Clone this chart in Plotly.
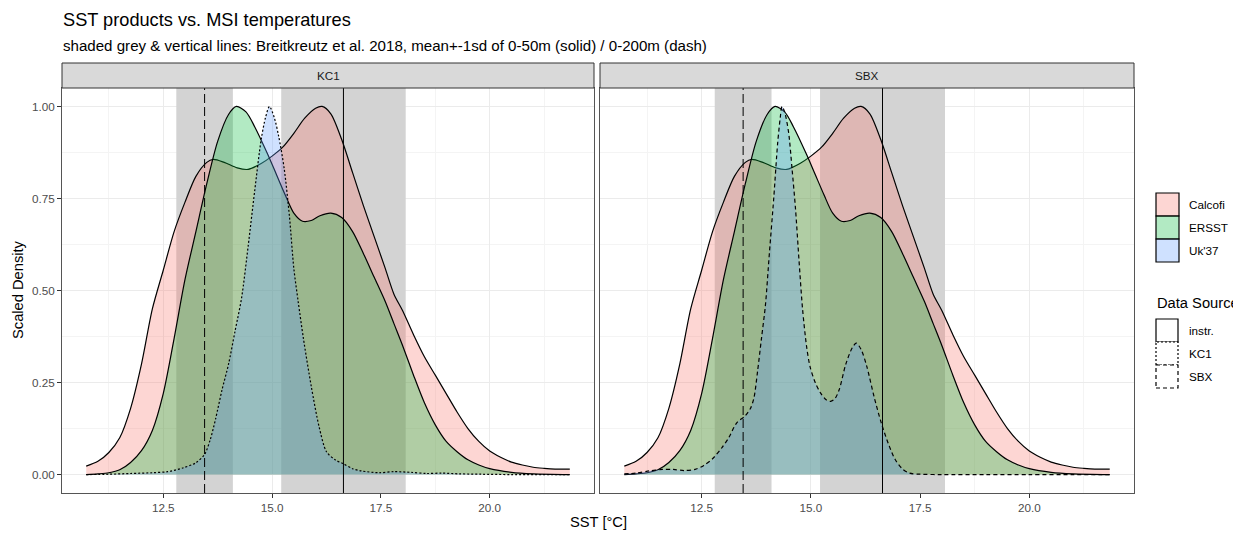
import plotly.graph_objects as go

# ---------------- data ----------------
panels = ["KC1", "SBX"]

calcofi_sst = [10.73, 11.0, 11.25, 11.5, 11.75, 12.0, 12.25, 12.5, 12.75, 13.0, 13.25, 13.5, 13.65, 13.9,
               14.2, 14.45, 14.75, 15.0, 15.25, 15.5, 15.75, 16.0, 16.15, 16.35, 16.6, 16.85, 17.1, 17.35,
               17.6, 17.8, 18.0, 18.25, 18.5, 18.75, 19.0, 19.25, 19.5, 19.75, 20.0, 20.25, 20.5, 20.75,
               21.0, 21.25, 21.5, 21.84]
calcofi_density = [0.023, 0.036, 0.06, 0.1, 0.18, 0.3, 0.45, 0.555, 0.66, 0.74, 0.81, 0.848, 0.856, 0.848,
                   0.833, 0.829, 0.845, 0.865, 0.89, 0.927, 0.968, 0.995, 1.0, 0.98, 0.91, 0.82, 0.73, 0.645,
                   0.56, 0.49, 0.445, 0.38, 0.32, 0.27, 0.22, 0.17, 0.125, 0.09, 0.064, 0.047, 0.034, 0.026,
                   0.02, 0.017, 0.015, 0.015]

ersst_sst = [10.73, 11.0, 11.25, 11.5, 11.75, 12.0, 12.25, 12.5, 12.75, 13.0, 13.25, 13.5, 13.75, 14.0,
             14.18, 14.4, 14.6, 14.9, 15.1, 15.3, 15.5, 15.7, 15.9, 16.1, 16.35, 16.6, 16.85, 17.1, 17.35,
             17.6, 17.8, 18.0, 18.25, 18.5, 18.75, 19.0, 19.25, 19.5, 19.75, 20.0, 20.5, 21.0, 21.84]
ersst_density = [0.0, 0.002, 0.005, 0.013, 0.033, 0.065, 0.12, 0.22, 0.37, 0.53, 0.66, 0.79, 0.905, 0.978,
                 1.0, 0.985, 0.945, 0.87, 0.815, 0.76, 0.71, 0.688, 0.69, 0.703, 0.71, 0.698, 0.66, 0.6,
                 0.535, 0.47, 0.41, 0.35, 0.27, 0.195, 0.135, 0.09, 0.062, 0.04, 0.026, 0.016, 0.006,
                 0.002, 0.0]

uk37_kc1_sst = [10.73, 11.25, 11.75, 12.25, 12.6, 12.95, 13.25, 13.45, 13.58, 13.7, 13.85, 14.0, 14.15,
                14.3, 14.45, 14.6, 14.75, 14.85, 14.94, 15.05, 15.15, 15.28, 15.4, 15.5, 15.6, 15.72, 15.9,
                16.08, 16.25, 16.45, 16.63, 16.85, 17.05, 17.45, 17.8, 18.2, 18.55, 18.9, 19.3, 19.8, 20.5,
                21.84]
uk37_kc1_density = [0.0, 0.001, 0.003, 0.005, 0.008, 0.018, 0.032, 0.055, 0.095, 0.15, 0.23, 0.3, 0.39,
                    0.48, 0.62, 0.77, 0.91, 0.97, 1.0, 0.97, 0.92, 0.83, 0.7, 0.56, 0.47, 0.37, 0.24,
                    0.13, 0.062, 0.04, 0.03, 0.016, 0.01, 0.005, 0.008, 0.006, 0.003, 0.004, 0.002, 0.001,
                    0.0, 0.0]

uk37_sbx_sst = [10.73, 11.0, 11.3, 11.6, 11.85, 12.1, 12.35, 12.55, 12.75, 12.97, 13.12, 13.3, 13.5,
                13.62, 13.7, 13.78, 13.87, 13.96, 14.05, 14.15, 14.24, 14.3, 14.34, 14.4, 14.49, 14.57,
                14.65, 14.73, 14.81, 14.9, 14.98, 15.1, 15.22, 15.35, 15.45, 15.55, 15.65, 15.8, 15.95,
                16.04, 16.15, 16.28, 16.45, 16.61, 16.77, 16.93, 17.1, 17.26, 17.5, 18.0, 19.0, 20.0,
                21.0, 21.84]
uk37_sbx_density = [0.002, 0.004, 0.01, 0.014, 0.014, 0.011, 0.014, 0.025, 0.043, 0.074, 0.1, 0.14, 0.16,
                    0.18, 0.21, 0.28, 0.37, 0.46, 0.6, 0.75, 0.9, 0.97, 1.0, 0.985, 0.93, 0.83, 0.72,
                    0.58, 0.45, 0.35, 0.294, 0.25, 0.222, 0.203, 0.199, 0.206, 0.231, 0.3, 0.345, 0.357,
                    0.34, 0.294, 0.21, 0.141, 0.085, 0.041, 0.015, 0.004, 0.001, 0.0, 0.0, 0.0, 0.0, 0.0]

# Breitkreutz et al. 2018 mean +- 1 sd
breit_mean_0_50 = 16.64
breit_sd_0_50 = 1.43
breit_mean_0_200 = 13.45
breit_sd_0_200 = 0.65

products = ["Calcofi", "ERSST", "Uk'37"]
product_colors = ["rgba(248,118,109,0.3)", "rgba(0,186,56,0.3)", "rgba(97,156,255,0.3)"]
sources = ["instr.", "KC1", "SBX"]
source_dash = {"instr.": "solid", "KC1": "2px,2px", "SBX": "4px,3px"}

x_tickvals = [12.5, 15.0, 17.5, 20.0]
x_ticktext = ["12.5", "15.0", "17.5", "20.0"]
y_tickvals = [0.0, 0.25, 0.5, 0.75, 1.0]
y_ticktext = ["0.00", "0.25", "0.50", "0.75", "1.00"]
y_range = [-0.05, 1.05]
x_range = [10.174, 22.396]

# ---------------- figure ----------------
OFF = 8                      # page body margin
W, H = 1241 - OFF, 533 - OFF
FONT = "Liberation Sans, Arial, sans-serif"


def px(xp):
    return (xp - OFF) / W


def py(yp):
    return 1 - (yp - OFF) / H


panel_x = [(62, 594), (600, 1134)]
panel_top, panel_bot = 88, 493
strip_top = 63

fig = go.Figure()

series = {
    "KC1": [(calcofi_sst, calcofi_density, 0, "instr."),
            (ersst_sst, ersst_density, 1, "instr."),
            (uk37_kc1_sst, uk37_kc1_density, 2, "KC1")],
    "SBX": [(calcofi_sst, calcofi_density, 0, "instr."),
            (ersst_sst, ersst_density, 1, "instr."),
            (uk37_sbx_sst, uk37_sbx_density, 2, "SBX")],
}

for i, p in enumerate(panels):
    xa = "x" if i == 0 else "x2"
    ya = "y" if i == 0 else "y2"
    for xs, ys, ci, src in series[p]:
        fig.add_trace(go.Scatter(
            x=xs, y=ys, xaxis=xa, yaxis=ya, mode="lines",
            line=dict(color="black", width=1.2, dash=source_dash[src], shape="spline", smoothing=0.8),
            fill="tozeroy", fillcolor=product_colors[ci],
            showlegend=False, hoverinfo="skip"))

shapes = []
for i, p in enumerate(panels):
    xa = "x" if i == 0 else "x2"
    ya = "y" if i == 0 else "y2"
    for m, s in [(breit_mean_0_200, breit_sd_0_200), (breit_mean_0_50, breit_sd_0_50)]:
        shapes.append(dict(type="rect", xref=xa, yref=ya, x0=m - s, x1=m + s, y0=y_range[0], y1=y_range[1],
                           fillcolor="#D3D3D3", line=dict(width=0), layer="between"))
    shapes.append(dict(type="line", xref=xa, yref=ya, x0=breit_mean_0_200, x1=breit_mean_0_200,
                       y0=y_range[0], y1=y_range[1], line=dict(color="black", width=1, dash="9px,4px"),
                       layer="above"))
    shapes.append(dict(type="line", xref=xa, yref=ya, x0=breit_mean_0_50, x1=breit_mean_0_50,
                       y0=y_range[0], y1=y_range[1], line=dict(color="black", width=1), layer="above"))
    # strip
    x0, x1 = panel_x[i]
    shapes.append(dict(type="rect", xref="paper", yref="paper", x0=px(x0), x1=px(x1),
                       y0=py(panel_top), y1=py(strip_top), fillcolor="#D9D9D9",
                       line=dict(color="#333333", width=1), layer="above"))

annotations = []
for i, p in enumerate(panels):
    x0, x1 = panel_x[i]
    annotations.append(dict(xref="paper", yref="paper", x=px((x0 + x1) / 2), y=py((panel_top + strip_top) / 2),
                            text=p, showarrow=False, xanchor="center", yanchor="middle",
                            font=dict(family=FONT, size=11.7, color="#1A1A1A")))

# titles
annotations.append(dict(xref="paper", yref="paper", x=px(61), y=py(20), text="SST products vs. MSI temperatures",
                        showarrow=False, xanchor="left", yanchor="middle",
                        font=dict(family=FONT, size=18.2, color="black")))
annotations.append(dict(xref="paper", yref="paper", x=px(61), y=py(45),
                        text="shaded grey & vertical lines: Breitkreutz et al. 2018, mean+-1sd of 0-50m (solid) / 0-200m (dash)",
                        showarrow=False, xanchor="left", yanchor="middle",
                        font=dict(family=FONT, size=15.1, color="black")))
annotations.append(dict(xref="paper", yref="paper", x=px(598), y=py(522), text="SST [°C]",
                        showarrow=False, xanchor="center", yanchor="middle",
                        font=dict(family=FONT, size=14.7, color="black")))
annotations.append(dict(xref="paper", yref="paper", x=px(18), y=py(290), text="Scaled Density",
                        showarrow=False, xanchor="center", yanchor="middle", textangle=-90,
                        font=dict(family=FONT, size=14.7, color="black")))

# legend: fill
key_x0, key_x1 = 1156, 1179
for k, (name, col) in enumerate(zip(products, product_colors)):
    t = 193 + 23 * k
    shapes.append(dict(type="rect", xref="paper", yref="paper", x0=px(key_x0), x1=px(key_x1),
                       y0=py(t + 23), y1=py(t), fillcolor=col, line=dict(color="black", width=1.2),
                       layer="above"))
    annotations.append(dict(xref="paper", yref="paper", x=px(1187), y=py(t + 11.5), text=name,
                            showarrow=False, xanchor="left", yanchor="middle",
                            font=dict(family=FONT, size=11.7, color="black")))

annotations.append(dict(xref="paper", yref="paper", x=px(1155), y=py(302.5), text="Data Source",
                        showarrow=False, xanchor="left", yanchor="middle",
                        font=dict(family=FONT, size=14.7, color="black")))
for k, src in enumerate(sources):
    t = 319 + 23 * k
    shapes.append(dict(type="rect", xref="paper", yref="paper", x0=px(key_x0), x1=px(key_x1 - 1),
                       y0=py(t + 23), y1=py(t), fillcolor="white",
                       line=dict(color="black", width=1.2, dash=source_dash[src]), layer="above"))
    annotations.append(dict(xref="paper", yref="paper", x=px(1187), y=py(t + 11.5), text=src,
                            showarrow=False, xanchor="left", yanchor="middle",
                            font=dict(family=FONT, size=11.7, color="black")))

common_x = dict(range=x_range, tickvals=x_tickvals, ticktext=x_ticktext, ticks="outside",
                ticklen=4, tickcolor="#333333", tickwidth=1,
                tickfont=dict(family=FONT, size=11.7, color="#4D4D4D"),
                showgrid=True, gridcolor="#EBEBEB", gridwidth=1, zeroline=False,
                showline=True, mirror=True, linecolor="#555555", linewidth=1,
                minor=dict(tickvals=[11.25, 13.75, 16.25, 18.75, 21.25], showgrid=True,
                           gridcolor="#F4F4F4", gridwidth=1, ticks=""))
common_y = dict(range=y_range, tickvals=y_tickvals, ticktext=y_ticktext,
                showgrid=True, gridcolor="#EBEBEB", gridwidth=1, zeroline=False,
                showline=True, mirror=True, linecolor="#555555", linewidth=1,
                minor=dict(tickvals=[0.125, 0.375, 0.625, 0.875], showgrid=True,
                           gridcolor="#F4F4F4", gridwidth=1, ticks=""),
                domain=[py(panel_bot), py(panel_top)])

fig.update_layout(
    width=W, height=H, margin=dict(l=0, r=0, t=0, b=0),
    paper_bgcolor="white", plot_bgcolor="white", showlegend=False,
    xaxis=dict(common_x, domain=[px(panel_x[0][0]), px(panel_x[0][1])], anchor="y"),
    xaxis2=dict(common_x, domain=[px(panel_x[1][0]), px(panel_x[1][1])], anchor="y2"),
    yaxis=dict(common_y, anchor="x", ticks="outside", ticklen=4, tickcolor="#333333", tickwidth=1,
               tickfont=dict(family=FONT, size=11.7, color="#4D4D4D")),
    yaxis2=dict(common_y, anchor="x2", matches="y", showticklabels=False, ticks=""),
    shapes=shapes, annotations=annotations,
)

fig.write_html("out.html")
